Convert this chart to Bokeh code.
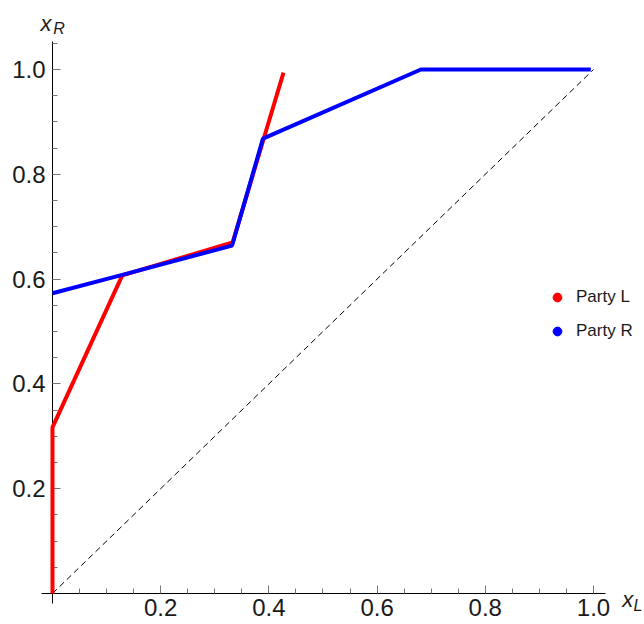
from bokeh.plotting import figure
from bokeh.models import (Range1d, LinearAxis, FixedTicker, PrintfTickFormatter,
                          Legend, LegendItem, Label)
from bokeh.embed import file_html
from bokeh.resources import INLINE

# ---- data ----
party_l_x = [0.0, 0.0, 0.129, 0.333, 0.427]
party_l_y = [0.0, 0.317, 0.607, 0.670, 0.994]

party_r_x = [0.0, 0.129, 0.332, 0.389, 0.681, 0.995]
party_r_y = [0.573, 0.608, 0.664, 0.868, 1.0, 1.0]

diag_x = [0.0, 1.0]
diag_y = [0.0, 1.0]

major_ticks = [0.2, 0.4, 0.6, 0.8, 1.0]
x_minor_ticks = [0.05, 0.1, 0.15, 0.25, 0.3, 0.35, 0.45, 0.5, 0.55, 0.65, 0.7,
                 0.75, 0.85, 0.9, 0.95]
y_minor_ticks = x_minor_ticks + [1.05]

FONT = "Liberation Sans"

p = figure(width=644, height=624, output_backend="svg", toolbar_location=None,
           x_range=Range1d(-0.0961, 1.0943), y_range=Range1d(-0.0592, 1.1317),
           x_axis_type=None, y_axis_type=None, min_border=0,
           min_border_left=0, min_border_right=0, min_border_top=0, min_border_bottom=0)
p.grid.visible = False
p.outline_line_color = None
p.background_fill_color = "white"


def style_axis(ax, minor, bounds):
    ax.ticker = FixedTicker(ticks=major_ticks, minor_ticks=minor)
    ax.formatter = PrintfTickFormatter(format="%.1f")
    ax.fixed_location = 0
    ax.bounds = bounds
    ax.axis_line_color = "black"
    ax.axis_line_width = 1
    ax.major_tick_in = 8
    ax.major_tick_out = 0
    ax.minor_tick_in = 5
    ax.minor_tick_out = 0
    ax.major_tick_line_color = "#777777"
    ax.minor_tick_line_color = "#777777"
    ax.major_label_text_font = FONT
    ax.major_label_text_font_size = "24px"
    ax.major_label_text_color = "#1a1a1a"
    ax.level = "underlay"


xaxis = LinearAxis()
style_axis(xaxis, x_minor_ticks, (-0.02, 1.022))
xaxis.major_label_standoff = 6
p.add_layout(xaxis, "below")

yaxis = LinearAxis()
style_axis(yaxis, y_minor_ticks, (-0.02, 1.053))
yaxis.major_label_standoff = 7
p.add_layout(yaxis, "left")

p.line(diag_x, diag_y, line_color="black", line_width=1, line_dash="6 4")
rl = p.line(party_l_x, party_l_y, line_color="#ff0000", line_width=4)
rr = p.line(party_r_x, party_r_y, line_color="#0000ff", line_width=4)

# legend-only markers: hidden renderers (legend still draws their glyph)
dot_l = p.scatter(party_l_x, party_l_y, size=9, fill_color="#ff0000",
                  line_color="#ff0000", visible=False)
dot_r = p.scatter(party_r_x, party_r_y, size=9, fill_color="#0000ff",
                  line_color="#0000ff", visible=False)

legend = Legend(items=[LegendItem(label="Party L", renderers=[dot_l]),
                       LegendItem(label="Party R", renderers=[dot_r])],
                location=(546, 282), orientation="vertical",
                glyph_width=22, glyph_height=22, label_height=22, spacing=12,
                label_standoff=8, padding=0, margin=0, click_policy="none",
                inactive_fill_alpha=0,
                border_line_color=None, background_fill_alpha=0,
                label_text_font=FONT, label_text_font_size="17px",
                label_text_color="#1a1a1a")
p.add_layout(legend)

for txt, x, y, size in [("x", -0.0222, 1.0872, "22px"), ("R", 0.0013, 1.0777, "16px"),
                        ("x", 1.053, -0.0115, "22px"), ("L", 1.074, -0.0229, "16px")]:
    p.add_layout(Label(x=x, y=y, text=txt, text_font=FONT, text_font_style="italic",
                       text_font_size=size, text_color="#1a1a1a",
                       text_baseline="alphabetic", text_align="left"))

open("out.html", "w").write(file_html(p, INLINE))
